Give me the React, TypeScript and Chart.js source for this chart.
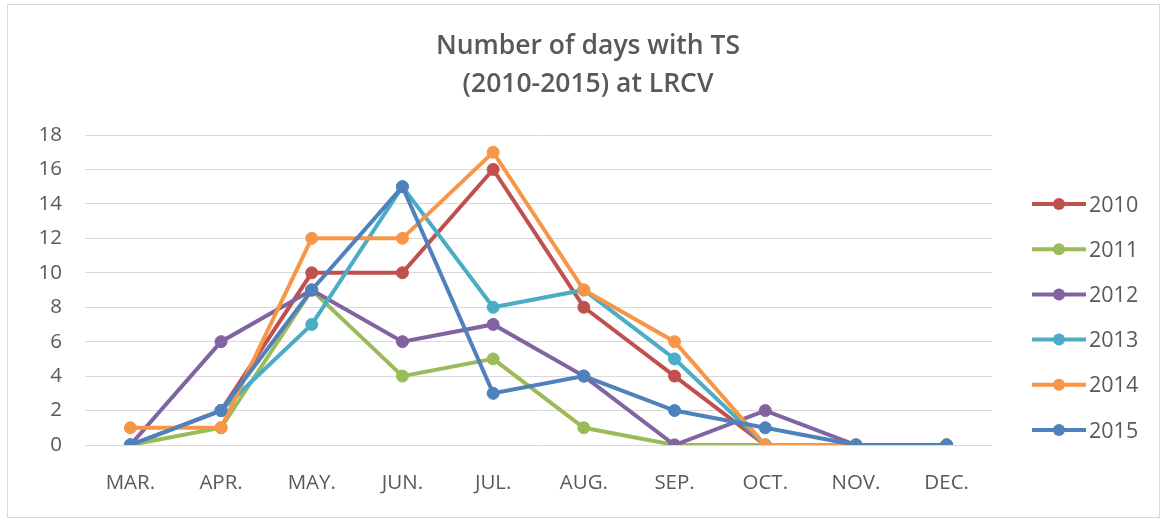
import React, { useEffect, useRef } from "react";
import { Chart, registerables } from "chart.js";

Chart.register(...registerables);

const categories = ["MAR.", "APR.", "MAY.", "JUN.", "JUL.", "AUG.", "SEP.", "OCT.", "NOV.", "DEC."];
const seriesNames = ["2010", "2011", "2012", "2013", "2014", "2015"];
const y2010 = [0, 2, 10, 10, 16, 8, 4, 0, 0, 0];
const y2011 = [0, 1, 9, 4, 5, 1, 0, 0, 0, 0];
const y2012 = [0, 6, 9, 6, 7, 4, 0, 2, 0, 0];
const y2013 = [0, 2, 7, 15, 8, 9, 5, 0, 0, 0];
const y2014 = [1, 1, 12, 12, 17, 9, 6, 0, 0, 0];
const y2015 = [0, 2, 9, 15, 3, 4, 2, 1, 0, 0];
const seriesColors = ["#C0504D", "#9BBB59", "#8064A2", "#4BACC6", "#F79646", "#4F81BD"];
const titleLines = ["Number of days with TS", "(2010-2015) at LRCV"];

const FONT = "'Open Sans', Lato, sans-serif";
const TEXT = "#595959";

export default function App() {
  const ref = useRef<HTMLCanvasElement | null>(null);

  useEffect(() => {
    if (!ref.current) return;
    const values = [y2010, y2011, y2012, y2013, y2014, y2015];
    const decor = {
      id: "decor",
      beforeDraw(chart: any) {
        const ctx = chart.ctx;
        ctx.save();
        ctx.fillStyle = "#ffffff";
        ctx.fillRect(0, 0, chart.width, chart.height);
        ctx.strokeStyle = "#d9d9d9";
        ctx.lineWidth = 1;
        ctx.strokeRect(7.5, 4.5, 1152, 513);
        ctx.restore();
      },
      afterDraw(chart: any) {
        const ctx = chart.ctx;
        ctx.save();
        ctx.fillStyle = TEXT;
        ctx.textAlign = "center";
        ctx.textBaseline = "alphabetic";
        ctx.font = `600 26.5px ${FONT}`;
        const cx = 588;
        ctx.fillText(titleLines[0], cx, 54);
        ctx.fillText(titleLines[1], cx, 92);
        // legend
        ctx.font = `21.5px ${FONT}`;
        ctx.textAlign = "left";
        chart.data.datasets.forEach((ds: any, i: number) => {
          const y = 204 + i * 45.2;
          ctx.strokeStyle = ds.borderColor;
          ctx.lineWidth = 4;
          ctx.beginPath();
          ctx.moveTo(1032, y);
          ctx.lineTo(1086, y);
          ctx.stroke();
          ctx.fillStyle = ds.borderColor;
          ctx.beginPath();
          ctx.arc(1059, y, 6, 0, Math.PI * 2);
          ctx.fill();
          ctx.fillStyle = TEXT;
          ctx.fillText(ds.label, 1089, y + 7.5);
        });
        ctx.restore();
      },
    };

    const chart = new Chart(ref.current, {
      type: "line",
      data: {
        labels: categories,
        datasets: seriesNames.map((name, i) => ({
          label: name,
          data: values[i],
          borderColor: seriesColors[i],
          backgroundColor: seriesColors[i],
          pointBackgroundColor: seriesColors[i],
          pointBorderColor: seriesColors[i],
          borderWidth: 4,
          pointRadius: 6,
          pointBorderWidth: 1,
          tension: 0,
          fill: false,
          order: seriesNames.length - 1 - i,
        })),
      },
      options: {
        animation: false,
        responsive: true,
        maintainAspectRatio: false,
        layout: { padding: { top: 135, right: 171, left: 0, bottom: 0 } },
        plugins: {
          legend: { display: false },
          title: { display: false },
          tooltip: { enabled: false },
        },
        scales: {
          x: {
            offset: true,
            grid: { display: false, drawTicks: false },
            border: { display: false },
            ticks: { color: TEXT, font: { family: FONT, size: 20.5 }, padding: 26, maxRotation: 0 },
            afterFit: (s: any) => { s.height = 76; },
          },
          y: {
            min: 0,
            max: 18,
            grid: { color: "#d9d9d9", lineWidth: 1, drawTicks: false, tickLength: 0 },
            border: { display: false },
            ticks: { stepSize: 2, color: TEXT, font: { family: FONT, size: 20.5 }, padding: 23 },
            afterFit: (s: any) => { s.width = 85; },
          },
        },
      },
      plugins: [decor],
    });
    return () => chart.destroy();
  }, []);

  return (
    <div style={{ position: "fixed", left: 0, top: 0, width: 1163, height: 521, background: "#fff" }}>
      <canvas ref={ref} />
    </div>
  );
}
